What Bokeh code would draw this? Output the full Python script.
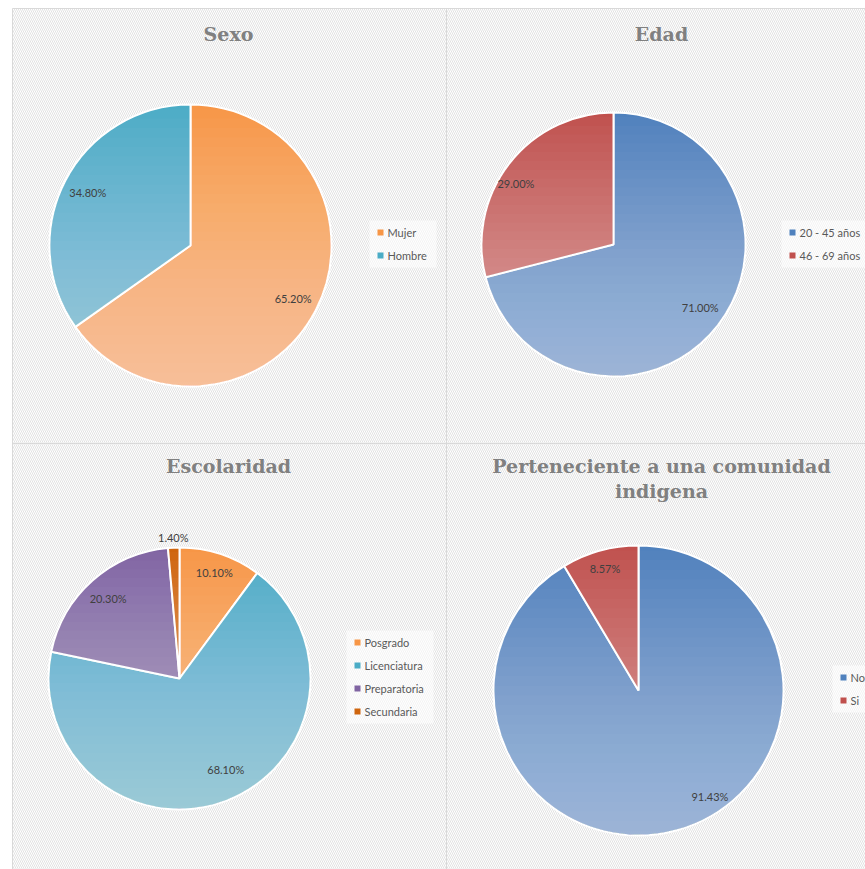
import numpy as np
from bokeh.plotting import figure
from bokeh.models import Range1d, ColumnDataSource
from bokeh.core.properties import value
from bokeh.embed import file_html
from bokeh.resources import INLINE

W, H = 865, 869

# ---------------- data ----------------
sexo_labels = ["Mujer", "Hombre"]
sexo_values = [65.20, 34.80]

edad_labels = ["20 - 45 años", "46 - 69 años"]
edad_values = [71.00, 29.00]

esc_labels = ["Posgrado", "Licenciatura", "Preparatoria", "Secundaria"]
esc_values = [10.10, 68.10, 20.30, 1.40]

ind_labels = ["No", "Si"]
ind_values = [91.43, 8.57]

titles = [["Sexo"], ["Edad"], ["Escolaridad"],
          ["Perteneciente a una comunidad", "indigena"]]

# ---------------- layout / style ----------------
charts = [
    dict(labels=sexo_labels, values=sexo_values, title=titles[0],
         colors=["#F79646", "#4BACC6"],
         cx=190, cy=245, r=141, tx=228, ty=33,
         lx=380, ly=232, lw=56, lab_r=[0.82, 0.82], lab_da=[0, 0]),
    dict(labels=edad_labels, values=edad_values, title=titles[1],
         colors=["#4F81BD", "#C0504D"],
         cx=613, cy=244, r=132, tx=661, ty=33,
         lx=792, ly=232, lw=74, lab_r=[0.81, 0.87], lab_da=[2, 6]),
    dict(labels=esc_labels, values=esc_values, title=titles[2],
         colors=["#F79646", "#4BACC6", "#8064A2", "#CF650E"],
         cx=179, cy=678, r=131, tx=228, ty=465,
         lx=357, ly=642, lw=76, lab_r=[0.85, 0.78, 0.82, 1.08], lab_da=[0, 6, 0, 0]),
    dict(labels=ind_labels, values=ind_values, title=titles[3],
         colors=["#4F81BD", "#C0504D"],
         cx=638, cy=690, r=145, tx=661, ty=465,
         lx=843, ly=677, lw=24, lab_r=[0.88, 0.87], lab_da=[18.6, 0]),
]


def Y(py):
    return H - py


p = figure(width=W, height=H, output_backend="svg", toolbar_location=None,
           x_range=Range1d(0, W), y_range=Range1d(0, H),
           min_border=0, x_axis_location=None, y_axis_location=None)
p.grid.visible = False
p.outline_line_color = None
p.background_fill_color = "white"
p.border_fill_color = "white"

# hatched chart area
p.quad(left=[12], right=[W], bottom=[0], top=[Y(8)], fill_color="white",
       line_color=None, hatch_pattern="\\", hatch_color="#E2E2E2",
       hatch_scale=4, hatch_weight=1)

# panel borders
p.segment(x0=[12, 12, 446, 12], y0=[Y(8), 0, 0, Y(443)],
          x1=[W, 12, 446, W], y1=[Y(8), Y(8), Y(8), Y(443)],
          line_color="#D9D9D9", line_width=1)


def segment_below(cx, cy, r, yk, n=60):
    s = np.clip((yk - cy) / r, -1, 1)
    a = np.arcsin(s)
    th = np.linspace(np.pi - a, 2 * np.pi + a, n)
    return list(cx + r * np.cos(th)), list(cy + r * np.sin(th))


N_GRAD = 30
alpha = 1 - (1 - 0.52) ** (1.0 / N_GRAD)

for c in charts:
    vals = np.array(c["values"], dtype=float)
    frac = vals / vals.sum()
    cum = np.concatenate([[0], np.cumsum(frac)])
    start = np.pi / 2 - 2 * np.pi * cum[:-1]
    end = np.pi / 2 - 2 * np.pi * cum[1:]
    cx, cy, r = c["cx"], Y(c["cy"]), c["r"]

    src = ColumnDataSource(dict(start=start, end=end, color=c["colors"],
                                label=c["labels"]))
    p.wedge(x=cx, y=cy, radius=r, start_angle="start", end_angle="end",
            direction="clock", fill_color="color", line_color="white",
            line_width=2, source=src)

    # vertical light gradient overlay
    xs, ys = [], []
    for i in range(N_GRAD):
        yk = cy + r * (1 - 2 * (i + 0.5) / N_GRAD)
        sx, sy = segment_below(cx, cy, r - 0.5, yk)
        xs.append(sx)
        ys.append(sy)
    p.patches(xs=xs, ys=ys, fill_color="white", fill_alpha=alpha, line_color=None)

    # data labels
    mid = (start + end) / 2 + np.radians(c["lab_da"])
    rr = np.array(c["lab_r"]) * r
    lsrc = ColumnDataSource(dict(x=cx + rr * np.cos(mid), y=cy + rr * np.sin(mid),
                                 t=["%.2f%%" % v for v in vals]))
    p.text(x="x", y="y", text="t", source=lsrc, text_align="center",
           text_baseline="middle", text_font=value("Lato"),
           text_font_size="11px", text_color="#404040")

    # title
    for k, line in enumerate(c["title"]):
        p.text(x=[c["tx"]], y=[Y(c["ty"] + 25 * k)], text=[line],
               text_align="center", text_baseline="middle",
               text_font=value("DejaVu Serif"), text_font_style="bold",
               text_font_size="19px", text_color="#808080")

    # legend
    n = len(c["labels"])
    ly = [Y(c["ly"] + 23 * k) for k in range(n)]
    p.quad(left=[c["lx"] - 11], right=[min(c["lx"] + c["lw"], W)],
           top=[Y(c["ly"] - 12)], bottom=[Y(c["ly"] + 23 * (n - 1) + 12)],
           fill_color="white", fill_alpha=0.6, line_color=None)
    p.scatter(x=[c["lx"]] * n, y=ly, marker="square", size=6,
              fill_color=c["colors"], line_color=None)
    p.text(x=[c["lx"] + 7] * n, y=ly, text=c["labels"], text_align="left",
           text_baseline="middle", text_font=value("Lato"),
           text_font_size="11px", text_color="#595959")

open("out.html", "w").write(file_html(p, INLINE))
